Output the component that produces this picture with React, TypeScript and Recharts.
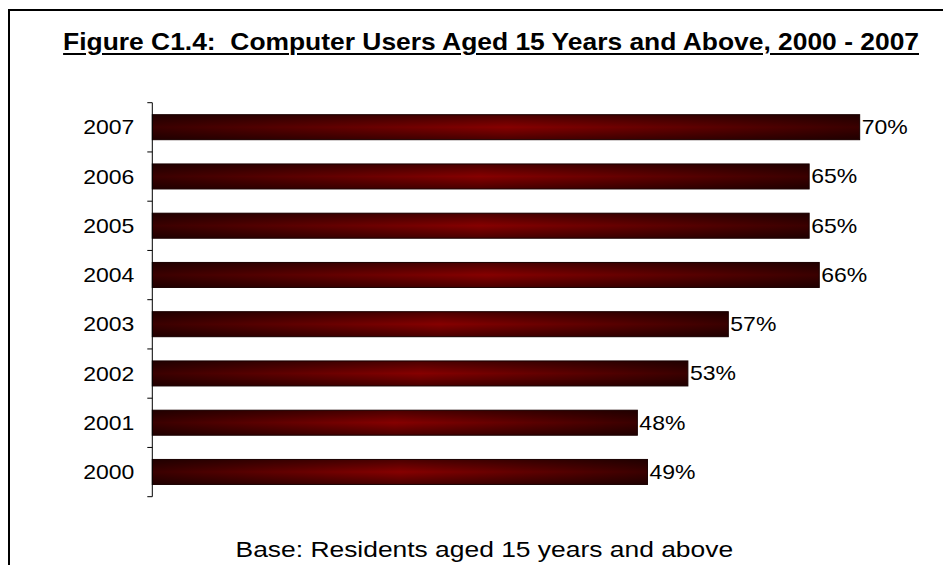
import React from 'react';
import { BarChart, Bar, XAxis, YAxis, LabelList } from 'recharts';

const years = ['2007', '2006', '2005', '2004', '2003', '2002', '2001', '2000'];
const users = [70, 65, 65, 66, 57, 53, 48, 49];
const titleText = 'Figure C1.4:  Computer Users Aged 15 Years and Above, 2000 - 2007';
const footerText = 'Base: Residents aged 15 years and above';

const data = years.map((y, i) => ({ year: y, value: users[i] }));

const FONT = '"Liberation Sans", Arial, Helvetica, sans-serif';
const SX = 1.15;
const TICK_MARGIN = 18;
const TICK_LEN = 5;

const BarShape = (props: any) => {
  const { x, y, width, height, index } = props;
  if (width == null || height == null) return null;
  const hid = `hg${index}`;
  const vid = `vg${index}`;
  return (
    <g>
      <defs>
        <linearGradient id={hid} x1="0" y1="0" x2="1" y2="0">
          <stop offset="0" stopColor="#3a0000" />
          <stop offset="0.5" stopColor="#860000" />
          <stop offset="1" stopColor="#3a0000" />
        </linearGradient>
        <linearGradient id={vid} x1="0" y1="0" x2="0" y2="1">
          <stop offset="0" stopColor="#000" stopOpacity={0.45} />
          <stop offset="0.5" stopColor="#000" stopOpacity={0} />
          <stop offset="1" stopColor="#000" stopOpacity={0.45} />
        </linearGradient>
      </defs>
      <rect x={x} y={y} width={width} height={height} fill={`url(#${hid})`} />
      <rect x={x} y={y} width={width} height={height} fill={`url(#${vid})`} stroke="#1a0000" strokeWidth={1} />
    </g>
  );
};

const YearTick = (props: any) => {
  const { x, y, payload, index, visibleTicksCount } = props;
  const half = payload && typeof payload.offset === 'number' ? payload.offset : 0;
  const ax = x + TICK_MARGIN;
  const isLast = index === (visibleTicksCount ?? years.length) - 1;
  return (
    <g>
      {half > 0 && (
        <line x1={ax - TICK_LEN} x2={ax} y1={y - half} y2={y - half} stroke="#000" strokeWidth={1} />
      )}
      {half > 0 && isLast && (
        <line x1={ax - TICK_LEN} x2={ax} y1={y + half} y2={y + half} stroke="#000" strokeWidth={1} />
      )}
      <text
        transform={`translate(${x},${y}) scale(${SX},1)`}
        textAnchor="end"
        dy="0.35em"
        fontSize={20}
        fill="#000"
        fontFamily={FONT}
      >
        {payload.value}
      </text>
    </g>
  );
};

const ValueLabel = (props: any) => {
  const { x, y, width, height, value } = props;
  return (
    <text
      transform={`translate(${x + width + 2},${y + height / 2}) scale(${SX},1)`}
      textAnchor="start"
      dy="0.35em"
      fontSize={20}
      fill="#000"
      fontFamily={FONT}
    >
      {`${value}%`}
    </text>
  );
};

export default function App() {
  return (
    <div
      style={{
        position: 'relative',
        width: 943,
        height: 557,
        marginTop: 1,
        boxSizing: 'border-box',
        borderTop: '2px solid #000',
        borderLeft: '2px solid #000',
        overflow: 'hidden',
        fontFamily: FONT,
        background: '#fff',
      }}
    >
      <style>{`html,body{overflow:hidden;background:#fff}`}</style>
      <div
        style={{
          position: 'absolute',
          left: -19,
          width: 1000,
          top: 18.7,
          textAlign: 'center',
          lineHeight: '24px',
          fontSize: 24,
          fontWeight: 'bold',
          color: '#000',
          whiteSpace: 'pre',
        }}
      >
        <span
          style={{
            display: 'inline-block',
            transform: 'scaleX(1.1)',
            textDecoration: 'underline',
            textDecorationThickness: '2px',
            textUnderlineOffset: '3px',
          }}
        >
          {titleText}
        </span>
      </div>
      <div style={{ position: 'absolute', left: -3, top: -3 }}>
        <BarChart
          width={935}
          height={549}
          data={data}
          layout="vertical"
          margin={{ top: 94.7, right: 31.8, bottom: 60.3, left: 0 }}
        >
          <XAxis type="number" domain={[0, 75]} hide />
          <YAxis
            type="category"
            dataKey="year"
            width={145.3}
            axisLine={{ stroke: '#000', strokeWidth: 1 }}
            tickLine={false}
            tickSize={0}
            tickMargin={TICK_MARGIN}
            interval={0}
            tick={<YearTick />}
          />
          <Bar dataKey="value" barSize={25} shape={<BarShape />} isAnimationActive={false}>
            <LabelList dataKey="value" content={<ValueLabel />} />
          </Bar>
        </BarChart>
      </div>
      <div
        style={{
          position: 'absolute',
          left: 474.7 - 500,
          width: 1000,
          top: 527.9,
          textAlign: 'center',
          lineHeight: '22px',
          fontSize: 22,
          color: '#000',
          whiteSpace: 'pre',
        }}
      >
        <span style={{ display: 'inline-block', transform: 'scaleX(1.2)' }}>{footerText}</span>
      </div>
    </div>
  );
}
